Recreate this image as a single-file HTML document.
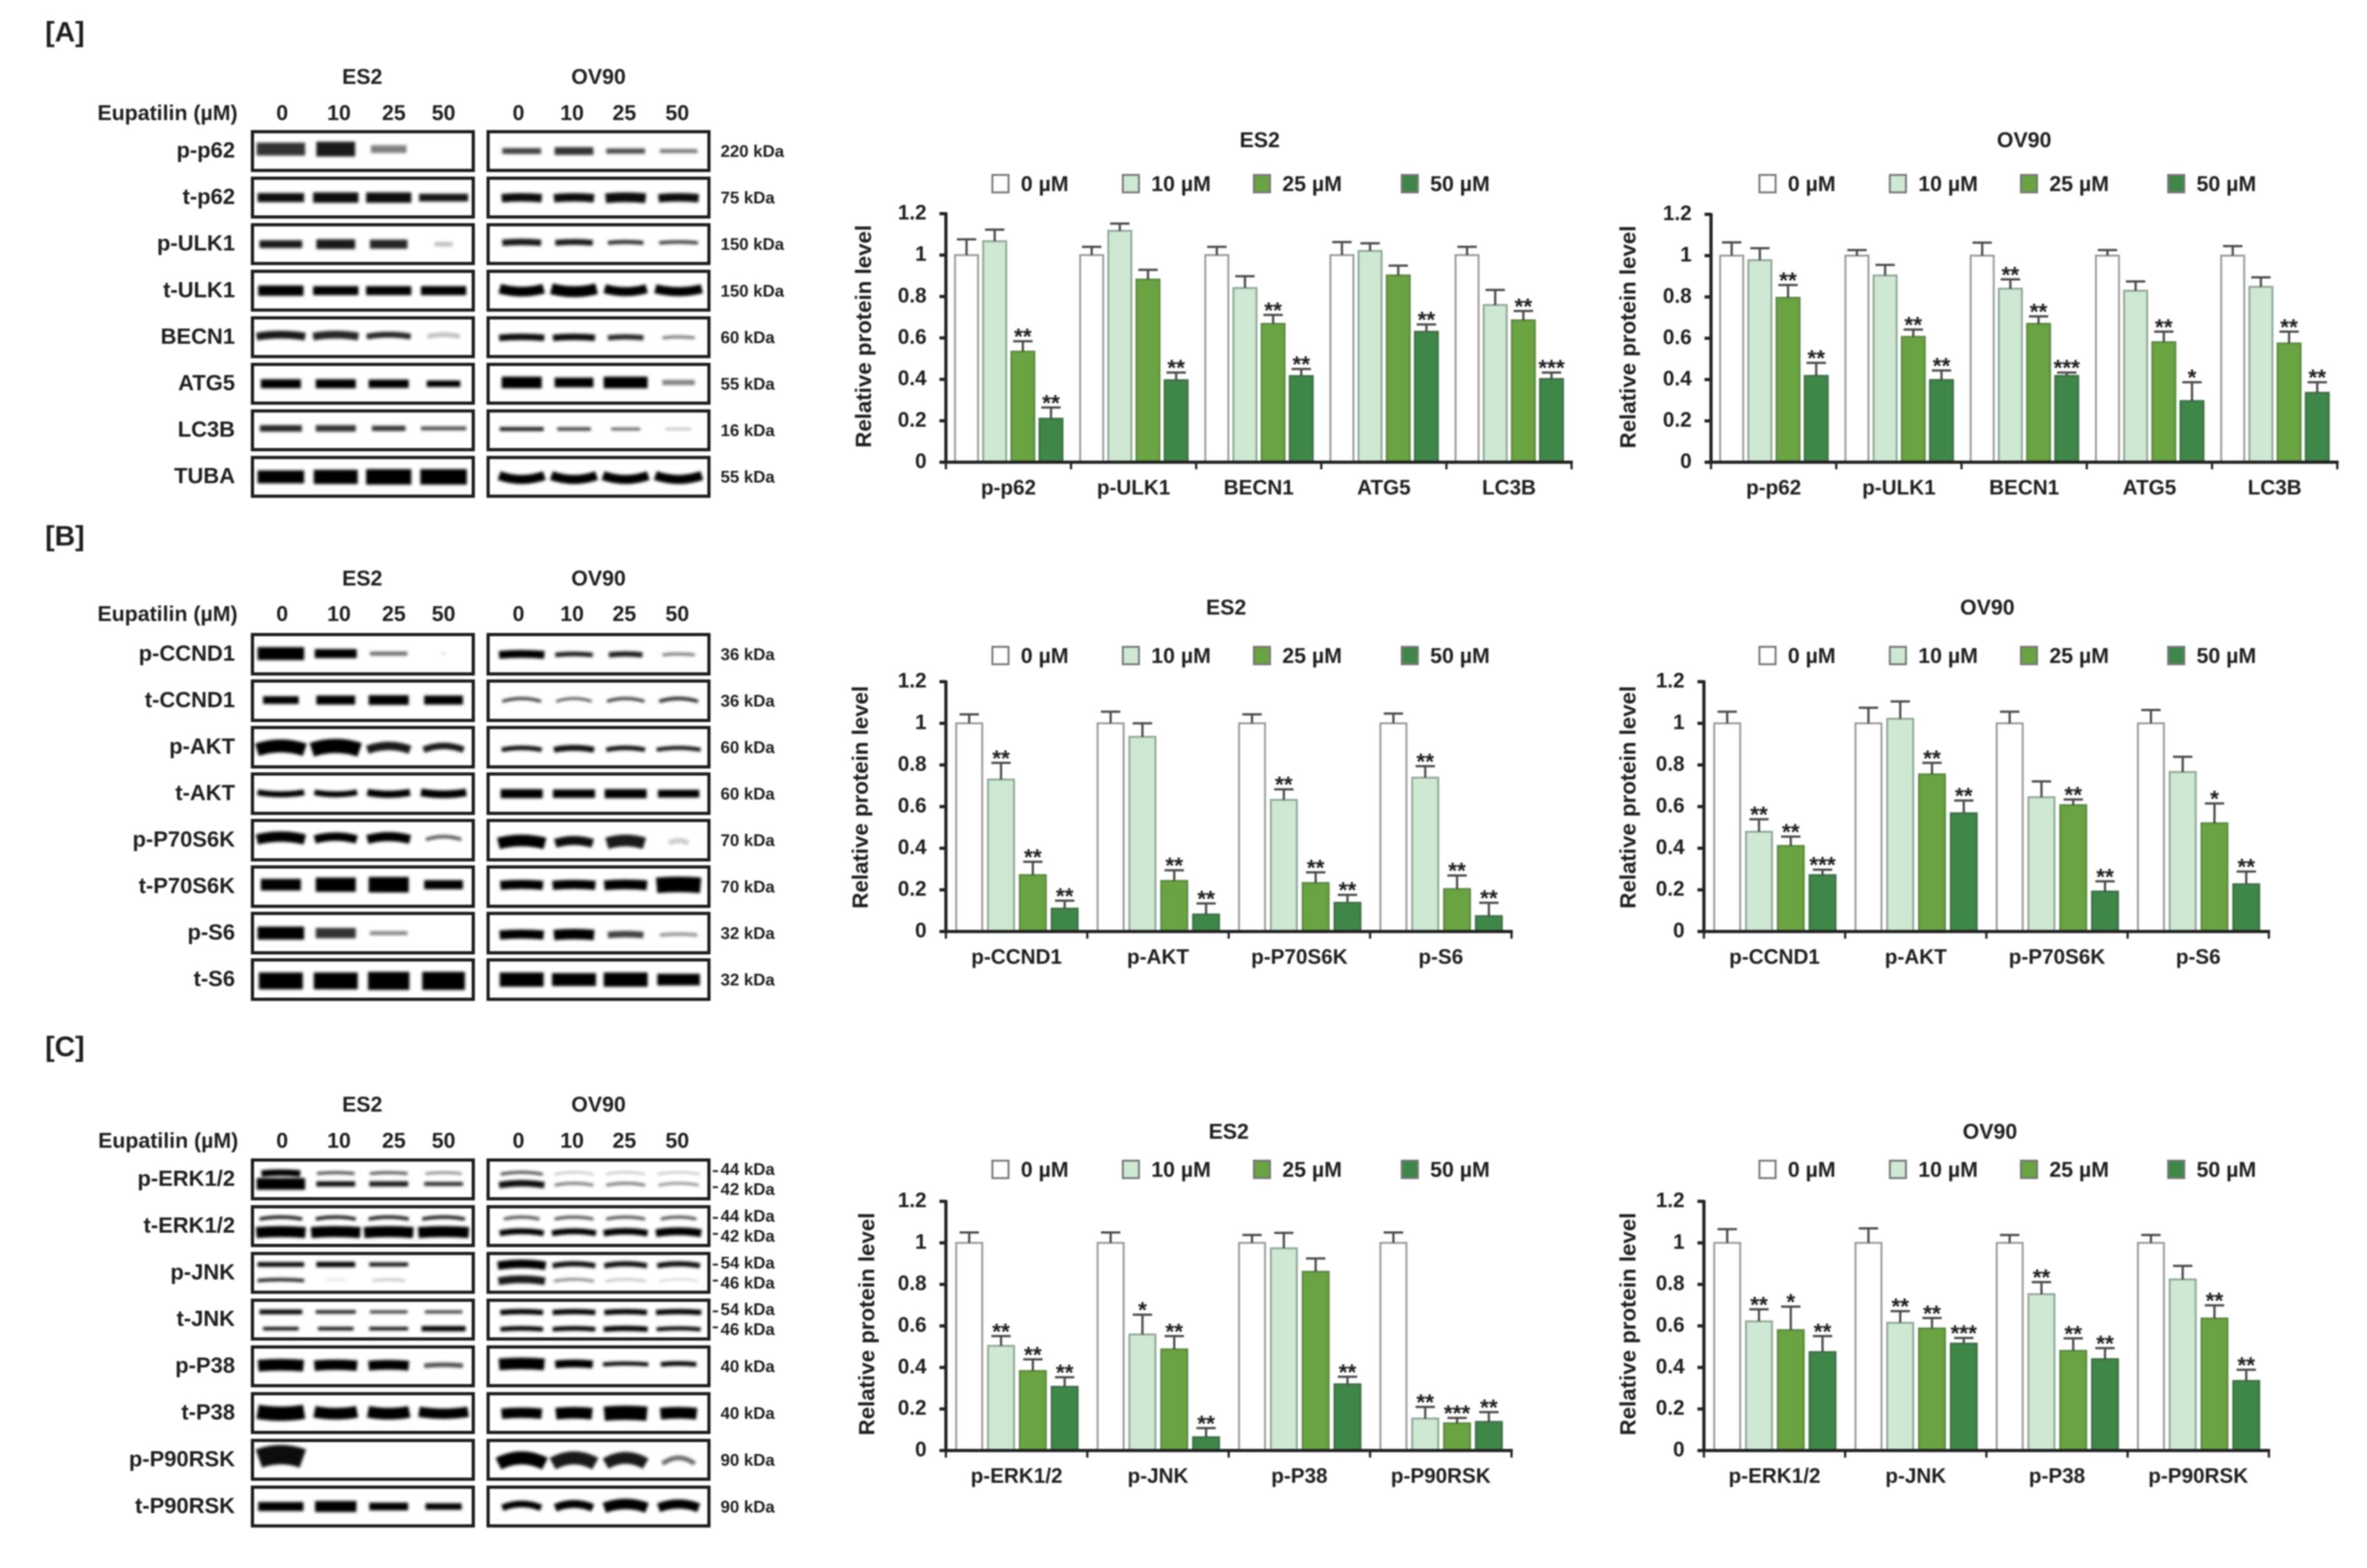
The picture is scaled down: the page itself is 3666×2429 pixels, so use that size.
<!DOCTYPE html>
<html lang="en">
<head>
<meta charset="utf-8">
<title>Eupatilin western blots and protein level charts</title>
<style>
html,body{margin:0;padding:0;background:#fff;}
svg{display:block;filter:blur(1px);}
text{font-family:"Liberation Sans",sans-serif;font-weight:700;fill:#1f1f1f;}
</style>
</head>
<body>
<svg id="figure" xmlns="http://www.w3.org/2000/svg" width="3666" height="2429" viewBox="0 0 3666 2429">
<defs><filter id="bandBlur" filterUnits="userSpaceOnUse" x="380" y="190" width="740" height="2190"><feGaussianBlur stdDeviation="2"/></filter></defs>
<rect width="3666" height="2429" fill="#fff"/>
<text x="70" y="64" font-size="44">[A]</text>
<text x="70" y="845" font-size="44">[B]</text>
<text x="70" y="1636" font-size="44">[C]</text>
<text x="561" y="130" font-size="33" text-anchor="middle">ES2</text>
<text x="927" y="130" font-size="33" text-anchor="middle">OV90</text>
<text x="561" y="907" font-size="33" text-anchor="middle">ES2</text>
<text x="927" y="907" font-size="33" text-anchor="middle">OV90</text>
<text x="561" y="1722" font-size="33" text-anchor="middle">ES2</text>
<text x="927" y="1722" font-size="33" text-anchor="middle">OV90</text>
<text x="368" y="186" font-size="33" text-anchor="end">Eupatilin (µM)</text>
<text x="368" y="962" font-size="33" text-anchor="end">Eupatilin (µM)</text>
<text x="369" y="1778" font-size="33" text-anchor="end">Eupatilin (µM)</text>
<text x="1951" y="228" font-size="33" text-anchor="middle">ES2</text>
<text x="3135" y="228" font-size="33" text-anchor="middle">OV90</text>
<text x="1899" y="952" font-size="33" text-anchor="middle">ES2</text>
<text x="3078" y="952" font-size="33" text-anchor="middle">OV90</text>
<text x="1903" y="1764" font-size="33" text-anchor="middle">ES2</text>
<text x="3082" y="1764" font-size="33" text-anchor="middle">OV90</text>
<text transform="translate(1349 521) rotate(-90)" font-size="34.5" text-anchor="middle">Relative protein level</text>
<text transform="translate(2533 522) rotate(-90)" font-size="34.5" text-anchor="middle">Relative protein level</text>
<text transform="translate(1344 1235) rotate(-90)" font-size="34.5" text-anchor="middle">Relative protein level</text>
<text transform="translate(2533 1235) rotate(-90)" font-size="34.5" text-anchor="middle">Relative protein level</text>
<text transform="translate(1354 2051) rotate(-90)" font-size="34.5" text-anchor="middle">Relative protein level</text>
<text transform="translate(2533 2051) rotate(-90)" font-size="34.5" text-anchor="middle">Relative protein level</text>
</svg>
<script>
// ---------- chart data ----------
const yTickValues = [0, 0.2, 0.4, 0.6, 0.8, 1, 1.2];
const yTickLabels = ['0', '0.2', '0.4', '0.6', '0.8', '1', '1.2'];
const legendLabels = ['0 µM', '10 µM', '25 µM', '50 µM'];
const doseLabels = ['0', '10', '25', '50'];

const categoriesA = ['p-p62', 'p-ULK1', 'BECN1', 'ATG5', 'LC3B'];
const categoriesB = ['p-CCND1', 'p-AKT', 'p-P70S6K', 'p-S6'];
const categoriesC = ['p-ERK1/2', 'p-JNK', 'p-P38', 'p-P90RSK'];

const valuesAES2 = [[1,1.067,.534,.21],[1,1.117,.882,.396],[1,.841,.668,.416],[1,1.02,.902,.63],[1,.759,.685,.402]];
const errorsAES2 = [[.076,.056,.05,.054],[.04,.035,.047,.037],[.04,.057,.043,.034],[.063,.037,.047,.035],[.04,.073,.045,.031]];
const starsAES2 = [['','','**','**'],['','','','**'],['','','**','**'],['','','','**'],['','','**','***']];

const valuesAOV90 = [[1,.978,.796,.418],[1,.904,.607,.398],[1,.84,.67,.418],[1,.83,.581,.296],[1,.849,.575,.336]];
const errorsAOV90 = [[.064,.058,.062,.063],[.027,.051,.035,.046],[.063,.045,.036,.016],[.027,.045,.051,.091],[.046,.046,.057,.051]];
const starsAOV90 = [['','','**','**'],['','','**','**'],['','**','**','***'],['','','**','*'],['','','**','**']];

const valuesBES2 = [[1,.73,.271,.11],[1,.935,.243,.082],[1,.632,.233,.138],[1,.739,.204,.074]];
const errorsBES2 = [[.043,.08,.064,.038],[.056,.065,.051,.053],[.043,.051,.051,.038],[.047,.055,.065,.064]];
const starsBES2 = [['','**','**','**'],['','','**','**'],['','**','**','**'],['','**','**','**']];

const valuesBOV90 = [[1,.479,.411,.271],[1,1.022,.755,.568],[1,.645,.607,.192],[1,.766,.52,.227]];
const errorsBOV90 = [[.056,.06,.045,.026],[.075,.083,.055,.061],[.056,.076,.027,.049],[.064,.073,.095,.061]];
const starsBOV90 = [['','**','**','***'],['','','**','**'],['','','**','**'],['','','*','**']];

const valuesCES2 = [[1,.504,.383,.307],[1,.559,.487,.064],[1,.974,.861,.319],[1,.154,.131,.138]];
const errorsCES2 = [[.05,.047,.056,.046],[.05,.095,.064,.044],[.038,.074,.064,.036],[.05,.056,.026,.047]];
const starsCES2 = [['','**','**','**'],['','*','**','**'],['','','','**'],['','**','***','**']];

const valuesCOV90 = [[1,.622,.58,.474],[1,.615,.588,.515],[1,.753,.48,.44],[1,.824,.636,.335]];
const errorsCOV90 = [[.066,.058,.113,.077],[.07,.056,.05,.027],[.038,.058,.06,.053],[.038,.065,.063,.054]];
const starsCOV90 = [['','**','*','**'],['','**','**','***'],['','**','**','**'],['','','**','**']];

// ---------- blot data: [label, [kDa labels], [[panel, dy, curve, widths, thickness, darkness], ...]] ----------
const blotRowsA = [
 ['p-p62',['220 kDa'],[[0,-3,0,[75,60,55,0],[20,23,12,0],[.8,.9,.5,0]],[1,0,0,[60,60,60,58],[9,12,8,6],[.75,.8,.7,.55]]]],
 ['t-p62',['75 kDa'],[[0,0,0,[72,70,70,76],[14,16,16,12],[.95,.95,.95,.9]],[1,0,1,[62,62,62,62],[13,13,15,13],[.95,.95,.95,.95]]]],
 ['p-ULK1',['150 kDa'],[[0,0,0,[66,60,58,28],[12,15,14,7],[.9,.9,.85,.25]],[1,-3,1,[60,58,55,60],[10,9,6,5],[.9,.9,.85,.8]]]],
 ['t-ULK1',['150 kDa'],[[0,0,0,[70,70,70,70],[16,14,14,14],[1,1,1,1]],[1,0,-3,[68,70,65,72],[15,17,14,14],[1,1,1,1]]]],
 ['BECN1',['60 kDa'],[[0,-3,2,[75,70,68,50],[12,12,9,7],[.9,.85,.85,.25]],[1,0,1,[70,65,55,50],[10,10,8,4],[.95,.95,.85,.6]]]],
 ['ATG5',['55 kDa'],[[0,0,0,[62,62,62,52],[14,14,13,10],[1,1,1,1]],[1,-2,0,[62,60,68,50],[18,15,18,8],[1,1,1,.5]]]],
 ['LC3B',['16 kDa'],[[0,-3,0,[65,62,52,70],[10,10,8,6],[.85,.8,.8,.7]],[1,-2,0,[68,52,45,40],[6,5,4,3],[.9,.8,.7,.3]]]],
 ['TUBA',['55 kDa'],[[0,0,0,[72,68,70,72],[20,22,24,24],[1,1,1,1]],[1,2,-4,[70,70,70,72],[14,14,14,14],[1,1,1,1]]]]
];
const blotRowsB = [
 ['p-CCND1',['36 kDa'],[[0,-1,0,[72,65,58,5],[20,14,6,2],[1,1,.6,.3]],[1,0,1,[70,58,52,50],[12,7,8,4],[1,.9,.9,.6]]]],
 ['t-CCND1',['36 kDa'],[[0,-1,0,[55,60,62,60],[12,14,15,14],[1,1,1,1]],[1,-2,3,[60,55,58,60],[4,3,4,5],[.9,.9,.9,.9]]]],
 ['p-AKT',['60 kDa'],[[0,0,4,[74,74,66,62],[20,22,13,10],[1,1,.9,.9]],[1,2,2,[62,62,60,68],[7,9,7,6],[.95,.95,.95,.95]]]],
 ['t-AKT',['60 kDa'],[[0,0,-2,[72,66,66,70],[9,9,11,12],[1,1,1,1]],[1,0,0,[65,65,65,64],[14,13,14,12],[1,1,1,1]]]],
 ['p-P70S6K',['70 kDa'],[[0,-4,3,[74,65,66,55],[16,13,14,5],[1,1,1,.7]],[1,2,3,[72,58,58,30],[18,14,18,8],[1,.95,.9,.2]]]],
 ['t-P70S6K',['70 kDa'],[[0,-3,0,[62,62,62,60],[18,22,24,14],[1,1,1,1]],[1,-3,1,[66,66,66,68],[14,14,15,24],[1,1,1,1]]]],
 ['p-S6',['32 kDa'],[[0,0,0,[72,62,58,0],[20,16,6,0],[1,.8,.5,0]],[1,2,1,[68,62,55,58],[14,16,10,5],[1,1,.75,.45]]]],
 ['t-S6',['32 kDa'],[[0,2,0,[68,68,64,66],[26,26,28,28],[1,1,1,1]],[1,0,0,[68,68,68,66],[22,20,22,18],[1,1,1,1]]]]
];
const blotRowsC = [
 ['p-ERK1/2',['44 kDa','42 kDa'],[[0,-10,1,[60,58,58,56],[10,4,4,3],[1,.8,.75,.6]],[0,7,0,[75,60,60,60],[18,8,8,6],[1,.95,.9,.85]],[1,-10,2,[65,60,60,65],[4,2,2,2],[.8,.4,.4,.4]],[1,7,2,[70,60,60,62],[10,4,4,3],[.95,.6,.6,.6]]]],
 ['t-ERK1/2',['44 kDa','42 kDa'],[[0,-13,2,[66,62,62,66],[5,5,5,5],[.95,.95,.95,.95]],[0,9,1,[76,76,76,78],[17,17,17,17],[1,1,1,1]],[1,-13,2,[55,60,60,55],[4,4,4,4],[.8,.8,.8,.8]],[1,9,2,[68,68,68,70],[9,9,10,12],[1,1,1,1]]]],
 ['p-JNK',['54 kDa','46 kDa'],[[0,-13,0,[72,60,60,0],[7,8,6,0],[1,1,.95,0]],[0,11,1,[72,30,50,0],[5,2,3,0],[.9,.2,.3,0]],[1,-13,2,[74,66,66,66],[13,8,8,8],[1,.95,.95,.95]],[1,11,2,[72,62,62,60],[12,4,3,2],[.9,.5,.3,.25]]]],
 ['t-JNK',['54 kDa','46 kDa'],[[0,-12,0,[66,62,58,58],[7,5,4,4],[1,.95,.9,.9]],[0,14,0,[55,55,60,68],[5,5,5,8],[1,1,1,1]],[1,-12,1,[66,66,66,70],[8,8,8,8],[1,1,1,1]],[1,14,1,[66,66,68,68],[7,7,8,6],[1,1,1,1]]]],
 ['p-P38',['40 kDa'],[[0,-2,1,[70,66,62,60],[18,16,15,7],[1,1,1,.7]],[1,-4,1,[70,58,70,55],[18,12,6,7],[1,1,1,1]]]],
 ['t-P38',['40 kDa'],[[0,0,-2,[72,66,64,76],[22,18,18,16],[1,1,1,1]],[1,0,1,[62,56,66,56],[16,18,22,18],[1,1,1,1]]]],
 ['p-P90RSK',['90 kDa'],[[0,-6,4,[68,0,0,0],[30,0,0,0],[.95,0,0,0]],[1,0,6,[72,66,62,50],[20,20,18,7],[1,.9,.9,.6]]]],
 ['t-P90RSK',['90 kDa'],[[0,0,0,[70,64,60,56],[14,17,12,10],[1,1,1,1]],[1,-2,4,[60,58,66,62],[10,12,16,14],[1,1,1,1]]]]
];

// ---------- drawing ----------
const svg = document.getElementById('figure');
const NS = 'http://www.w3.org/2000/svg';
function add(parent, tag, attrs, content) {
  const el = document.createElementNS(NS, tag);
  for (const k in attrs) el.setAttribute(k, attrs[k]);
  if (content !== undefined) el.textContent = content;
  parent.appendChild(el);
  return el;
}

const seriesFill = ['#ffffff', '#cfe8d3', '#6aa342', '#3f8748'];
const seriesStroke = ['#9a9a9a', '#8fa896', '#5d8a42', '#3f7048'];

function drawChart(cfg) {
  const g = add(svg, 'g', {});
  
  
  const y = v => cfg.y0 - (v / 1.2) * (cfg.y0 - cfg.yTop);
  const cw = (cfg.xEnd - cfg.x0) / cfg.categories.length;
  const barW = cw * 0.184, pitch = cw * 0.225, pad = cw * 0.073;

  // legend
  legendLabels.forEach((label, i) => {
    const sx = cfg.legendX[i];
    const sw = add(g, 'rect', {x: sx, y: cfg.legendY - 13, width: 25, height: 27, fill: seriesFill[i], stroke: '#777', 'stroke-width': 3});
    
    
    const t = add(g, 'text', {x: sx + 44, y: cfg.legendY + 12, 'font-size': 33}, label);
    
    
  });

  // bars
  cfg.categories.forEach((cat, c) => {
    cfg.values[c].forEach((v, s) => {
      const bx = cfg.x0 + c * cw + pad + s * pitch;
      const bar = add(g, 'rect', {x: bx, y: y(v), width: barW, height: cfg.y0 - y(v), fill: seriesFill[s], stroke: seriesStroke[s], 'stroke-width': 3});
      
      
      const top = y(v + cfg.errors[c][s]);
      const cx = bx + barW / 2;
      const eb = add(g, 'path', {d: 'M' + cx + ' ' + y(v) + 'V' + top + 'M' + (cx - 15) + ' ' + top + 'H' + (cx + 15), stroke: '#4a4a4a', 'stroke-width': 3.5, fill: 'none'});
      
      
      const star = cfg.stars[c][s];
      if (star) {
        const st = add(g, 'text', {x: cx, y: top + 5, 'font-size': 35, 'text-anchor': 'middle'}, star);
        
        
      }
    });
    const lab = add(g, 'text', {x: cfg.x0 + (c + 0.5) * cw, y: cfg.y0 + 50, 'font-size': 32, 'text-anchor': 'middle'}, cat);
    
    
  });

  // y axis
  const yAxis = add(g, 'line', {x1: cfg.x0, x2: cfg.x0, y1: cfg.yTop - 2, y2: cfg.y0 + 2, stroke: '#222', 'stroke-width': 5});
  
  
  yTickValues.forEach((v, i) => {
    const tick = add(g, 'line', {x1: cfg.x0 - 10, x2: cfg.x0, y1: y(v), y2: y(v), stroke: '#222', 'stroke-width': 5});
    
    
    const tl = add(g, 'text', {x: cfg.x0 - 30, y: y(v) + 9, 'font-size': 32, 'text-anchor': 'end'}, yTickLabels[i]);
    
    
  });

  // x axis
  const xAxis = add(g, 'line', {x1: cfg.x0 - 10, x2: cfg.xEnd + 2, y1: cfg.y0, y2: cfg.y0, stroke: '#222', 'stroke-width': 5});
  
  
  for (let i = 0; i <= cfg.categories.length; i++) {
    const tx = cfg.x0 + i * cw;
    const xt = add(g, 'line', {x1: tx, x2: tx, y1: cfg.y0, y2: cfg.y0 + 11, stroke: '#222', 'stroke-width': 3.5});
    
    
  }
}

const laneCentres = [[435, 520, 602, 687], [808, 889, 969, 1051]];
const frameX = [391, 756];
const frameW = [342, 342];
const doseX = [[437, 525, 610, 687], [803, 886, 967, 1049]];

function drawBlot(rows, top, pitch, height, doseY) {
  const g = add(svg, 'g', {});
  
  
  doseX.forEach(col => col.forEach((x, i) => {
    const d = add(g, 'text', {x: x, y: doseY, 'font-size': 33, 'text-anchor': 'middle'}, doseLabels[i]);
    
    
  }));
  const bandLayer = add(g, 'g', {filter: 'url(#bandBlur)'});
  
  
  rows.forEach((row, r) => {
    const ry = top + r * pitch;
    const cy = ry + height / 2;
    const lab = add(g, 'text', {x: 364, y: cy + 10, 'font-size': 34, 'text-anchor': 'end'}, row[0]);
    
    
    row[2].forEach(b => {
      laneCentres[b[0]].forEach((x, l) => {
        if (!b[3][l] || !b[4][l]) return;
        const yy = cy + b[1], c = b[2], hw = b[3][l] / 2;
        const band = add(bandLayer, 'path', {d: 'M' + (x - hw) + ' ' + (yy + c) + 'Q' + x + ' ' + (yy - c * 2) + ' ' + (x + hw) + ' ' + (yy + c), fill: 'none', stroke: '#000', 'stroke-opacity': b[5][l], 'stroke-width': b[4][l]});
        
        
      });
    });
    [0, 1].forEach(p => {
      const fr = add(g, 'rect', {x: frameX[p], y: ry, width: frameW[p], height: height, fill: 'none', stroke: '#1c1c1c', 'stroke-width': 5});
      
      
    });
    const sizes = row[1];
    sizes.forEach((s, i) => {
      const dy = sizes.length === 2 ? (i === 0 ? -16 : 15) : 0;
      const kd = add(g, 'text', {x: 1116, y: cy + dy + 9, 'font-size': 26}, s);
      
      
      if (sizes.length === 2) {
        const m = add(g, 'line', {x1: 1104, x2: 1112, y1: cy + dy * 0.8, y2: cy + dy * 0.8, stroke: '#222', 'stroke-width': 3});
        
        
      }
    });
  });
}

const legendES2 = [1537, 1739, 1942, 2171];
const legendOV90 = [2725, 2927, 3130, 3358];

drawBlot(blotRowsA, 204, 72.1, 60, 186);
drawBlot(blotRowsB, 983, 72, 61, 962);
drawBlot(blotRowsC, 1797, 72.4, 60, 1778);

drawChart({categories: categoriesA, values: valuesAES2, errors: errorsAES2, stars: starsAES2, x0: 1465, xEnd: 2434, y0: 716, yTop: 331, legendX: legendES2, legendY: 284});
drawChart({categories: categoriesA, values: valuesAOV90, errors: errorsAOV90, stars: starsAOV90, x0: 2650, xEnd: 3620, y0: 716, yTop: 332, legendX: legendOV90, legendY: 284});
drawChart({categories: categoriesB, values: valuesBES2, errors: errorsBES2, stars: starsBES2, x0: 1465, xEnd: 2341, y0: 1443, yTop: 1056, legendX: legendES2, legendY: 1015});
drawChart({categories: categoriesB, values: valuesBOV90, errors: errorsBOV90, stars: starsBOV90, x0: 2639, xEnd: 3514, y0: 1443, yTop: 1056, legendX: legendOV90, legendY: 1015});
drawChart({categories: categoriesC, values: valuesCES2, errors: errorsCES2, stars: starsCES2, x0: 1465, xEnd: 2341, y0: 2247, yTop: 1861, legendX: legendES2, legendY: 1811});
drawChart({categories: categoriesC, values: valuesCOV90, errors: errorsCOV90, stars: starsCOV90, x0: 2639, xEnd: 3514, y0: 2247, yTop: 1861, legendX: legendOV90, legendY: 1811});
</script>
</body>
</html>
